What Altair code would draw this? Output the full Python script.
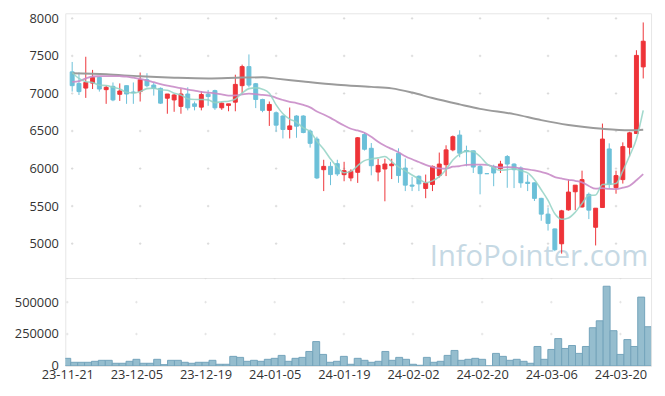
import altair as alt
import pandas as pd
import numpy as np

# ---------------- data ----------------
date_labels = ["23-11-21", "23-12-05", "23-12-19", "24-01-05", "24-01-19",
               "24-02-02", "24-02-20", "24-03-06", "24-03-20"]

opens = [7288, 7134, 7072, 7138, 7213, 7051, 7095, 6989, 7104, 7020,
         7025, 7183, 7112, 7068, 6937, 6914, 6828, 6993, 6862, 6818,
         6990, 7038, 6809, 6841, 6884, 7104, 7358, 7130, 6920, 6775,
         6743, 6700, 6520, 6700, 6700, 6499, 6393, 5985, 6029, 6065,
         5919, 5875, 5950, 6454, 6270, 5954, 5994, 6038, 6204, 6007,
         5780, 5897, 5735, 5788, 5907, 6051, 6249, 6446, 6240, 6236,
         6029, 5932, 6029, 5998, 6160, 6060, 6007, 5818, 5810, 5603,
         5393, 5196, 4998, 5450, 5691, 5489, 5656, 5218, 5481, 6261,
         5744, 5853, 6283, 6467, 7354]

highs = [7420, 7279, 7489, 7314, 7226, 7104, 7147, 7134, 7104, 7147,
         7279, 7270, 7147, 7080, 6993, 6993, 7059, 7082, 6893, 7033,
         7047, 7050, 6880, 6862, 7250, 7384, 7520, 7140, 6930, 6893,
         6760, 6710, 6813, 6710, 6710, 6520, 6424, 6117, 6090, 6117,
         6090, 5990, 6420, 6480, 6340, 6130, 6130, 6130, 6270, 6134,
         5890, 5910, 5920, 6040, 6213, 6310, 6440, 6510, 6305, 6240,
         6051, 5932, 6051, 6103, 6180, 6070, 6029, 5920, 5815, 5610,
         5480, 5200, 5450, 5853, 5779, 5972, 5680, 5472, 6599, 6336,
         5972, 6349, 6490, 7576, 7946]

lows = [7025, 6980, 6941, 7059, 7025, 6862, 6897, 6901, 6862, 6862,
        6893, 7082, 6972, 6862, 6730, 6756, 6730, 6775, 6775, 6775,
        6836, 6782, 6782, 6763, 6763, 7000, 7082, 6805, 6750, 6568,
        6490, 6401, 6401, 6410, 6470, 6279, 5860, 5700, 5779, 5900,
        5831, 5831, 5809, 6240, 5910, 5830, 5564, 5860, 5810, 5700,
        5700, 5700, 5605, 5700, 5880, 5900, 6230, 6150, 6030, 5941,
        5657, 5932, 5765, 5941, 5744, 5740, 5744, 5700, 5568, 5305,
        5174, 4900, 4867, 5440, 5446, 5480, 5327, 4976, 5480, 5730,
        5665, 5800, 6160, 6460, 7200]

closes = [7104, 7025, 7147, 7213, 7059, 7082, 6914, 7033, 6993, 7010,
          7183, 7104, 7068, 6871, 6993, 6980, 6993, 6809, 6828, 6986,
          6959, 6809, 6871, 6862, 7121, 7358, 7112, 6920, 6775, 6854,
          6578, 6520, 6568, 6564, 6480, 6336, 5875, 6029, 5920, 5928,
          5972, 5963, 6410, 6257, 6038, 6042, 6060, 6060, 5907, 5779,
          5765, 5796, 5809, 6029, 6060, 6249, 6424, 6204, 6225, 6020,
          5932, 5932, 5941, 6060, 6060, 5985, 5810, 5801, 5603, 5393,
          5270, 4919, 5437, 5687, 5779, 5853, 5446, 5472, 6393, 5788,
          5906, 6292, 6476, 7507, 7696]

volumes = [59600, 28600, 28600, 28600, 36400, 44100, 44100, 20900, 20900, 36400,
           51900, 20900, 20900, 51900, 10300, 44100, 44100, 28600, 20900, 28600,
           28600, 44100, 13100, 13100, 75100, 67100, 36400, 44100, 36400, 51900,
           59600, 82600, 36400, 59600, 67100, 113500, 190900, 90300, 28600, 36400,
           75100, 13100, 59600, 44100, 28600, 36400, 113500, 44100, 67100, 51900,
           13100, 5200, 67100, 28600, 36400, 82600, 121500, 44100, 51900, 59600,
           51900, 0, 98300, 75100, 44100, 51900, 36400, 20900, 152500, 51900,
           129300, 214400, 137000, 160200, 98300, 152500, 299500, 353700, 624600, 276300,
           90300, 206700, 152500, 539500, 307300]

# moving-average values before enough closes are available
ma5_head = [7279, 7200, 7157, 7147]
ma20_head = [7156, 7165, 7200, 7226, 7230, 7232, 7232, 7230, 7225, 7210,
             7195, 7175, 7150, 7125, 7105, 7088, 7070, 7052, 7038]
# 60-day average at these candle positions
ma60_idx = [0, 5, 10, 15, 20, 25, 28, 30, 34, 39, 44, 47, 50, 53, 57, 60, 65, 69, 73, 78, 82, 84]
ma60_val = [7270, 7255, 7228, 7210, 7200, 7212, 7215, 7198, 7160, 7117, 7088, 7068,
            7012, 6940, 6855, 6795, 6725, 6645, 6580, 6530, 6510, 6518]

price_ticks = [5000, 5500, 6000, 6500, 7000, 7500, 8000]
vol_ticks = [0, 250000, 500000]
x_ticks = [0, 10, 20, 30, 40, 50, 60, 70, 80]

# ---------------- tables ----------------
n = len(closes)
df = pd.DataFrame({"i": list(range(n)), "open": opens, "high": highs, "low": lows,
                   "close": closes, "volume": volumes})
df["dir"] = np.where(df["close"] > df["open"], "up", "down")
cs = pd.Series(closes, dtype=float)
ma5 = cs.rolling(5).mean()
ma5.iloc[:4] = ma5_head
ma20 = cs.rolling(20).mean()
ma20.iloc[:19] = ma20_head
df["ma5"] = ma5.values
df["ma20"] = ma20.values
df["x1"] = df["i"] - 0.5
df["x2"] = df["i"] + 0.5
ma60_df = pd.DataFrame({"i": ma60_idx, "ma60": ma60_val})

cross_price = pd.DataFrame([(x, v) for x in x_ticks for v in price_ticks], columns=["i", "v"])
VOL_MAX = 689000
cross_vol = pd.DataFrame([(x, v) for x in x_ticks for v in [250000, 500000, VOL_MAX]], columns=["i", "v"])

# ---------------- scales / axes ----------------
PX = 7.0
W = 593
x0 = -2 / PX
xscale = alt.Scale(domain=[x0, x0 + W / PX], nice=False, zero=False)
yscale = alt.Scale(domain=[4542, 8068], nice=False, zero=False)
vscale = alt.Scale(domain=[0, VOL_MAX], nice=False, zero=True)

yaxis = alt.Axis(values=price_ticks, title=None, labelPadding=7, minExtent=49, maxExtent=49,
                 format="d")
vaxis = alt.Axis(values=vol_ticks, title=None, labelPadding=7, minExtent=49, maxExtent=49,
                 format="d")
label_arr = "[" + ",".join("'" + d + "'" for d in date_labels) + "]"
xaxis = alt.Axis(values=x_ticks, title=None, labelExpr=label_arr + "[round(datum.value/10)]",
                 labelPadding=3, labelFlush=False, labelOverlap=False)

RED = "#ee3338"
BLUE = "#6cc0d8"
dir_color = alt.Color("dir:N", scale=alt.Scale(domain=["up", "down"], range=[RED, BLUE]), legend=None)

cross_path = "M-1,0H1M0,-1V1"

base = alt.Chart(df)

p_cross = alt.Chart(cross_price).mark_point(shape=cross_path, size=6, filled=False,
                                             stroke="#d9d9d9", strokeWidth=1, opacity=1,
                                             clip=True).encode(
    x=alt.X("i:Q", scale=xscale, axis=None),
    y=alt.Y("v:Q", scale=yscale, axis=yaxis))

wicks = base.mark_rule(strokeWidth=1).encode(
    x=alt.X("i:Q", scale=xscale, axis=None),
    y=alt.Y("low:Q", scale=yscale, axis=yaxis),
    y2="high:Q",
    color=dir_color)

bodies = base.mark_bar(size=4, strokeWidth=1).encode(
    x=alt.X("i:Q", scale=xscale, axis=None),
    y=alt.Y("open:Q", scale=yscale, axis=yaxis),
    y2="close:Q",
    color=dir_color,
    stroke=alt.Stroke("dir:N", scale=alt.Scale(domain=["up", "down"], range=[RED, BLUE]), legend=None))

line60 = alt.Chart(ma60_df).mark_line(color="#9b9b9b", strokeWidth=2, interpolate="monotone").encode(
    x=alt.X("i:Q", scale=xscale, axis=None),
    y=alt.Y("ma60:Q", scale=yscale, axis=yaxis))
line20 = base.mark_line(color="#c98cc8", strokeWidth=1.8, interpolate="monotone", opacity=0.9).encode(
    x=alt.X("i:Q", scale=xscale, axis=None),
    y=alt.Y("ma20:Q", scale=yscale, axis=yaxis))
line5 = base.mark_line(color="#93d2c4", strokeWidth=1.6, interpolate="monotone", opacity=0.85).encode(
    x=alt.X("i:Q", scale=xscale, axis=None),
    y=alt.Y("ma5:Q", scale=yscale, axis=yaxis))

watermark = alt.Chart(pd.DataFrame({"t": ["InfoPointer.com"]})).mark_text(
    font="Open Sans", fontSize=29.5, color="#c6d9e4", align="right", baseline="alphabetic").encode(
    text="t:N", x=alt.value(590), y=alt.value(256))

price = alt.layer(p_cross, watermark, wicks, bodies, line60, line20, line5).properties(width=W, height=268)

v_cross = alt.Chart(cross_vol).mark_point(shape=cross_path, size=6, filled=False,
                                           stroke="#d9d9d9", strokeWidth=1, clip=True).encode(
    x=alt.X("i:Q", scale=xscale, axis=xaxis),
    y=alt.Y("v:Q", scale=vscale, axis=vaxis))

vol_bars = base.mark_bar(color="#95bdce", stroke="#74a4bb", strokeWidth=1, clip=True).encode(
    x=alt.X("x1:Q", scale=xscale, axis=xaxis),
    x2="x2:Q",
    y=alt.Y("volume:Q", scale=vscale, axis=vaxis),
    y2=alt.Y2(datum=0))

volume = alt.layer(v_cross, vol_bars).properties(width=W, height=89)

chart = alt.vconcat(price, volume, spacing=0, bounds="flush").properties(
    padding={"left": 5, "top": 1, "right": 5, "bottom": 5}
).configure_view(stroke="#e6e6e6").configure_axis(
    labelFont="Open Sans", labelFontSize=13, labelColor="#333333",
    domain=False, ticks=False, grid=False
).configure_concat(spacing=0)

chart.save("out.html", embed_options={"renderer": "svg", "actions": False})
